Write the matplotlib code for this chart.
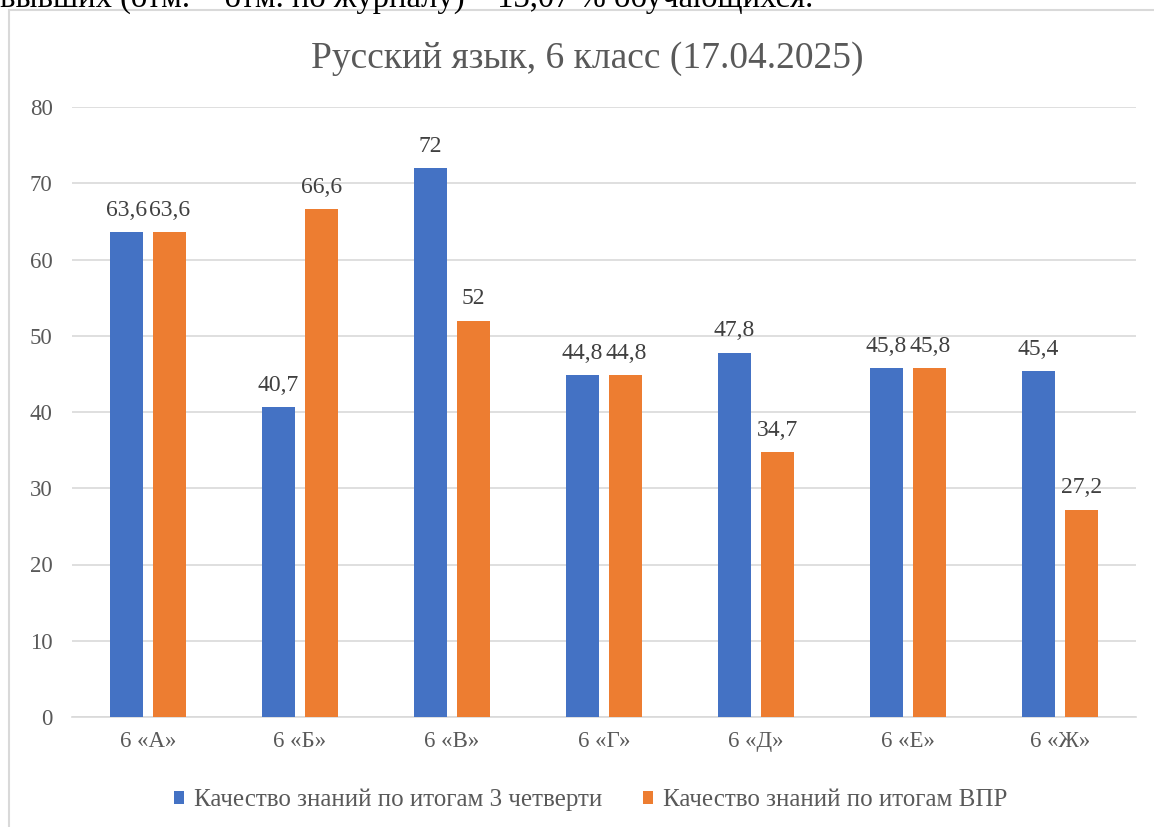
import matplotlib.pyplot as plt
import numpy as np
from matplotlib.patches import Rectangle

categories = ["6 «А»", "6 «Б»", "6 «В»", "6 «Г»", "6 «Д»", "6 «Е»", "6 «Ж»"]
quarter3 = [63.6, 40.7, 72, 44.8, 47.8, 45.8, 45.4]
vpr = [63.6, 66.6, 52, 44.8, 34.7, 45.8, 27.2]
series_names = ["Качество знаний по итогам 3 четверти", "Качество знаний по итогам ВПР"]
title = "Русский язык, 6 класс (17.04.2025)"
top_text = "вывших (отм. = отм. по журналу) – 13,07 % обучающихся."

BLUE = "#4472C4"
ORANGE = "#ED7D31"
GRID = "#D9D9D9"
TEXT = "#595959"

plt.rcParams.update({
    "font.family": ["Liberation Serif", "DejaVu Serif"],
})


def fmt(v):
    return f"{v:g}".replace(".", ",")


def main() -> None:
    fig = plt.figure(figsize=(11.54, 8.27), dpi=100)
    ax = fig.add_axes([72 / 1154, 1 - 717 / 827, 1064 / 1154, 610 / 827])

    # рамка диаграммы из документа
    fig.patches.append(Rectangle((9 / 1154, -0.1), 1.2, 1 - 10 / 827 + 0.1,
                                 transform=fig.transFigure, fill=False,
                                 edgecolor=GRID, linewidth=1.5))
    fig.text(0.0, 1 - 7 / 827, top_text, fontsize=23.5, color="black",
             ha="left", va="baseline")

    x = np.arange(len(categories))
    w = 0.22
    off = 0.143
    b1 = ax.bar(x - off, quarter3, w, color=BLUE, label=series_names[0], zorder=3)
    b2 = ax.bar(x + off, vpr, w, color=ORANGE, label=series_names[1], zorder=3)

    for bars, vals in ((b1, quarter3), (b2, vpr)):
        for rect, v in zip(bars, vals):
            ax.annotate(fmt(v), (rect.get_x() + rect.get_width() / 2, v),
                        xytext=(0, 8), textcoords="offset points",
                        ha="center", va="bottom", fontsize=17, color="#404040")

    ax.set_xlim(-0.5, len(categories) - 0.5)
    ax.set_ylim(0, 80)
    ax.set_yticks(range(0, 81, 10))
    ax.set_xticks(x)
    ax.set_xticklabels(categories)
    ax.grid(axis="y", color=GRID, linewidth=1.2, zorder=0)
    for s in ("top", "right", "left"):
        ax.spines[s].set_visible(False)
    ax.spines["bottom"].set_color(GRID)
    ax.spines["bottom"].set_linewidth(1.2)
    ax.tick_params(length=0, labelsize=16.5, colors=TEXT, pad=10)
    ax.tick_params(axis="y", pad=14)

    ax.set_title(title, fontsize=27, color=TEXT, pad=28, x=0.484)

    fig.legend(loc="center", bbox_to_anchor=(0.512, 1 - 800 / 827), ncol=2,
               frameon=False, fontsize=18, handlelength=0.4, handleheight=0.4,
               handletextpad=0.4, columnspacing=1.65, labelcolor=TEXT)

    fig.savefig("out.png", dpi=100)


if __name__ == "__main__":
    main()
